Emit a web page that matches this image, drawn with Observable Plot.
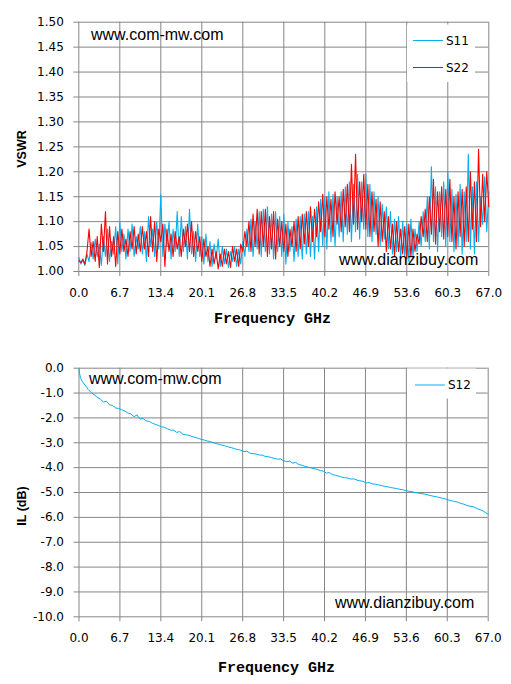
<!DOCTYPE html>
<html><head><meta charset="utf-8">
<script src="https://cdn.jsdelivr.net/npm/d3@7"></script>
<script src="https://cdn.jsdelivr.net/npm/@observablehq/plot@0.6"></script>
<style>body{margin:0;background:#fff;width:511px;overflow:hidden} svg{display:block}</style>
</head><body><div id="topChart"></div><div id="botChart"></div>
<script>
// ---- data ----
const xTicks = [0, 6.7, 13.4, 20.1, 26.8, 33.5, 40.2, 46.9, 53.6, 60.3, 67.0];
const vswrTicks = [1.00, 1.05, 1.10, 1.15, 1.20, 1.25, 1.30, 1.35, 1.40, 1.45, 1.50];
const ilTicks = [0, -1, -2, -3, -4, -5, -6, -7, -8, -9, -10];
const seriesNames = ["S11", "S22", "S12"];

// VSWR samples every 67/200 GHz, 0..67 GHz
const s11 = [
1.028,1.015,1.022,1.012,1.035,1.020,1.058,1.025,1.065,1.030,
1.055,1.012,1.070,1.030,1.085,1.020,1.060,1.035,1.090,1.015,
1.100,1.040,1.075,1.025,1.085,1.040,1.095,1.030,1.070,1.045,
1.090,1.035,1.080,1.020,1.110,1.050,1.085,1.030,1.100,1.045,
1.155,1.030,1.095,1.050,1.100,1.025,1.085,1.040,1.120,1.030,
1.110,1.040,1.090,1.025,1.125,1.035,1.080,1.020,1.095,1.030,
1.070,1.015,1.075,1.020,1.060,1.010,1.055,1.025,1.065,1.010,
1.050,1.015,1.045,1.008,1.040,1.020,1.050,1.010,1.045,1.015,
1.060,1.030,1.085,1.040,1.105,1.030,1.100,1.045,1.120,1.030,
1.125,1.040,1.130,1.035,1.115,1.025,1.120,1.040,1.110,1.030,
1.115,1.015,1.100,1.040,1.090,1.020,1.105,1.030,1.110,1.025,
1.115,1.035,1.120,1.030,1.110,1.025,1.130,1.040,1.145,1.050,
1.150,1.045,1.160,1.060,1.155,1.050,1.150,1.070,1.160,1.060,
1.170,1.075,1.180,1.060,1.175,1.080,1.195,1.065,1.180,1.085,
1.195,1.070,1.175,1.060,1.160,1.075,1.150,1.050,1.135,1.065,
1.130,1.045,1.120,1.035,1.105,1.040,1.110,1.025,1.100,1.030,
1.095,1.020,1.105,1.030,1.085,1.040,1.100,1.050,1.120,1.060,
1.150,1.045,1.210,1.060,1.170,1.040,1.160,1.070,1.180,1.050,
1.200,1.060,1.165,1.040,1.155,1.050,1.175,1.035,1.160,1.060,
1.235,1.045,1.170,1.035,1.180,1.060,1.150,1.095,1.190,1.080,
1.160];
const s22 = [
1.022,1.018,1.025,1.015,1.040,1.085,1.030,1.060,1.020,1.070,
1.008,1.095,1.040,1.120,1.015,1.090,1.030,1.070,1.010,1.080,
1.035,1.085,1.040,1.065,1.030,1.080,1.045,1.090,1.035,1.075,
1.040,1.090,1.045,1.080,1.030,1.110,1.040,1.100,1.020,1.085,
1.060,1.095,1.010,1.085,1.040,1.075,1.030,1.080,1.045,1.070,
1.030,1.085,1.050,1.095,1.040,1.100,1.030,1.080,1.040,1.070,
1.020,1.065,1.030,1.050,1.010,1.045,1.015,1.040,1.005,1.035,
1.010,1.045,1.015,1.040,1.008,1.050,1.020,1.045,1.010,1.055,
1.040,1.080,1.050,1.100,1.040,1.115,1.050,1.125,1.035,1.120,
1.050,1.125,1.030,1.110,1.045,1.120,1.025,1.105,1.050,1.100,
1.040,1.095,1.030,1.085,1.050,1.100,1.040,1.110,1.045,1.115,
1.055,1.120,1.050,1.130,1.060,1.125,1.070,1.140,1.080,1.155,
1.070,1.150,1.085,1.145,1.070,1.160,1.095,1.150,1.080,1.165,
1.090,1.175,1.080,1.215,1.095,1.235,1.085,1.180,1.100,1.195,
1.085,1.175,1.070,1.160,1.080,1.145,1.050,1.140,1.060,1.120,
1.040,1.110,1.045,1.095,1.030,1.100,1.040,1.085,1.035,1.090,
1.025,1.095,1.030,1.085,1.040,1.075,1.055,1.110,1.070,1.125,
1.060,1.150,1.075,1.185,1.055,1.160,1.080,1.170,1.065,1.165,
1.070,1.185,1.060,1.150,1.045,1.160,1.070,1.165,1.050,1.170,
1.060,1.200,1.085,1.180,1.060,1.245,1.090,1.195,1.100,1.200,
1.130];
const vswrFreq = s11.map((_, i) => i * 67 / 200);

// Insertion loss S12 (dB)
const s12Freq = [0, 0.1, 0.25].concat(d3.range(1, 135).map(k => k * 0.5));
const s12 = [
-0.02,-0.22,-0.38,
-0.52,-0.68,-0.85,-0.98,-1.07,-1.17,-1.25,-1.36,-1.33,-1.47,
-1.50,-1.60,-1.62,-1.67,-1.72,-1.80,-1.84,-1.95,-1.88,-2.05,
-2.02,-2.12,-2.14,-2.21,-2.26,-2.30,-2.36,-2.38,-2.44,-2.49,
-2.50,-2.58,-2.55,-2.66,-2.68,-2.70,-2.75,-2.78,-2.82,-2.86,
-2.89,-2.93,-2.95,-3.00,-3.03,-3.07,-3.10,-3.13,-3.17,-3.20,
-3.24,-3.27,-3.30,-3.36,-3.34,-3.42,-3.44,-3.45,-3.49,-3.50,
-3.55,-3.56,-3.60,-3.62,-3.66,-3.65,-3.72,-3.76,-3.74,-3.82,
-3.79,-3.88,-3.90,-3.95,-3.98,-4.01,-4.04,-4.07,-4.12,-4.14,
-4.22,-4.20,-4.28,-4.31,-4.34,-4.38,-4.40,-4.42,-4.46,-4.45,
-4.50,-4.53,-4.55,-4.62,-4.60,-4.65,-4.67,-4.69,-4.72,-4.75,
-4.77,-4.80,-4.82,-4.84,-4.87,-4.89,-4.92,-4.95,-4.97,-5.00,
-5.02,-5.04,-5.06,-5.09,-5.12,-5.15,-5.17,-5.20,-5.23,-5.26,
-5.30,-5.33,-5.36,-5.39,-5.44,-5.47,-5.52,-5.55,-5.57,-5.62,
-5.68,-5.72,-5.80,-5.88];

// ---- style ----
const GRID = "#868686", BLUE = "#00B0F0", RED = "#FF0000";
const tickFont = "DejaVu Sans";

function axes(yTicks, yFmt) {
  return [
    Plot.gridX(xTicks, {stroke: GRID, strokeOpacity: 1}),
    Plot.gridY(yTicks, {stroke: GRID, strokeOpacity: 1}),
    Plot.axisX(xTicks, {tickFormat: d => d.toFixed(1), tickSize: 5, tickPadding: 11.5, stroke: GRID, fill: "#000", label: null, fontSize: 12}),
    Plot.axisY(yTicks, {tickFormat: yFmt, tickSize: 5, tickPadding: 10, stroke: GRID, fill: "#000", label: null, fontSize: 12})
  ];
}

const chartTop = Plot.plot({
  width: 511, height: 340,
  marginLeft: 78.3, marginRight: 22.7, marginTop: 21.7, marginBottom: 69,
  style: {fontFamily: tickFont, fontSize: "12px", background: "#fff", overflow: "visible"},
  x: {domain: [0, 67]},
  y: {domain: [1.0, 1.5]},
  marks: [
    ...axes(vswrTicks, d => d.toFixed(2)),
    Plot.line(s11, {x: (d, i) => vswrFreq[i], y: d => d, stroke: BLUE, strokeWidth: 1.1}),
    Plot.line(s22, {x: (d, i) => vswrFreq[i], y: d => d, stroke: RED, strokeWidth: 1.1})
  ]
});

const chartBot = Plot.plot({
  width: 511, height: 344,
  marginLeft: 78.5, marginRight: 23.3, marginTop: 27.7, marginBottom: 67.7,
  style: {fontFamily: tickFont, fontSize: "12px", background: "#fff", overflow: "visible"},
  x: {domain: [0, 67]},
  y: {domain: [-10, 0]},
  marks: [
    ...axes(ilTicks, d => d.toFixed(1)),
    Plot.line(s12, {x: (d, i) => s12Freq[i], y: d => d, stroke: BLUE, strokeWidth: 1})
  ]
});

document.getElementById("topChart").appendChild(chartTop);
document.getElementById("botChart").appendChild(chartBot);

function decorate(svgNode, o) {
  const svg = d3.select(svgNode);
  const lg = svg.append("g").attr("text-anchor", "start");
  lg.append("rect").attr("x", o.box[0]).attr("y", o.box[1]).attr("width", o.box[2]).attr("height", o.box[3]).attr("fill", "#fff");
  o.items.forEach(it => {
    lg.append("line").attr("x1", it.x1).attr("x2", it.x2).attr("y1", it.y).attr("y2", it.y).attr("stroke", it.color).attr("stroke-width", 1);
    lg.append("text").attr("x", it.tx).attr("y", it.ty).text(it.name).attr("text-anchor", "start")
      .attr("font-family", tickFont).attr("font-size", 12).attr("fill", "#000");
  });
  o.marks.forEach(m => svg.append("text").attr("x", m[1]).attr("y", m[2]).text(m[0]).attr("text-anchor", "start")
    .attr("font-family", "Liberation Sans").attr("font-size", 16).attr("fill", "#000"));
  svg.append("text").attr("transform", `translate(${o.ylab[1]},${o.ylab[2]}) rotate(-90)`)
    .attr("text-anchor", "middle").attr("dy", "0.35em").text(o.ylab[0])
    .attr("font-family", "Liberation Sans").attr("font-weight", "bold").attr("font-size", 12.5).attr("fill", "#000");
  svg.append("text").attr("x", o.xlab[0]).attr("y", o.xlab[1]).attr("text-anchor", "middle")
    .text("Frequency GHz").attr("font-family", "Liberation Mono").attr("font-weight", "bold")
    .attr("font-size", 15).attr("fill", "#000");
}

decorate(chartTop, {
  box: [407, 24.5, 68, 57.5],
  items: [
    {name: seriesNames[0], color: BLUE, x1: 413, x2: 443, y: 40.5, tx: 446, ty: 44.5},
    {name: seriesNames[1], color: RED, x1: 413, x2: 443, y: 67.5, tx: 446, ty: 71.5}
  ],
  marks: [["www.com-mw.com", 91, 39.5], ["www.dianzibuy.com", 339, 265]],
  ylab: ["VSWR", 22, 149],
  xlab: [272.5, 323]
});
decorate(chartBot, {
  box: [407, 28.5, 69, 30],
  items: [
    {name: seriesNames[2], color: BLUE, x1: 415, x2: 445, y: 45, tx: 448, ty: 49.3}
  ],
  marks: [["www.com-mw.com", 89, 44.3], ["www.dianzibuy.com", 335, 268]],
  ylab: ["IL (dB)", 22, 166],
  xlab: [276.5, 331.5]
});
</script>
</body></html>
